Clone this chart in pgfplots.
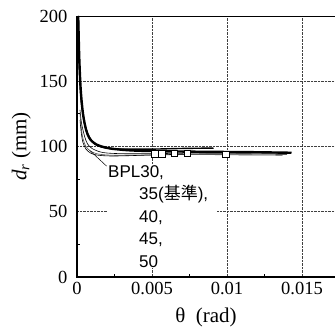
\documentclass[border=0pt]{standalone}
\usepackage{fontspec}
\setmainfont{Liberation Serif}
\newfontfamily\sansf{Liberation Sans}
\newfontfamily\cjk{Noto Sans CJK JP}
\usepackage{pgfplots}
\pgfplotsset{compat=1.18}
\begin{document}
\begin{tikzpicture}
\begin{axis}[
  scale only axis, width=258pt, height=261pt,
  xmin=0, xmax=0.0172, ymin=0, ymax=200,
  axis line style={draw=none},
  xtick={0,0.005,0.01,0.015}, ytick={0,50,100,150,200},
  minor xtick={0.0025,0.0075,0.0125}, minor ytick={25,75,125,175},
  xtick pos=bottom, ytick pos=left, tick align=inside,
  major tick length=0pt, minor tick length=3pt,
  every tick/.style={black, line width=0.8pt},
  scaled x ticks=false,
  xticklabel style={/pgf/number format/fixed, /pgf/number format/precision=3, yshift=-2pt},
  yticklabel style={xshift=-6pt},
  /pgf/number format/assume math mode=true,
  ticklabel style={font=\fontsize{18.5}{18.5}\selectfont},
  grid=major, major grid style={densely dotted, black!75, line width=0.7pt},
  xlabel={θ\ \ (rad)}, ylabel={\textit{d}\textsubscript{\textit{r}} (mm)},
  label style={font=\fontsize{21}{21}\selectfont},
  xlabel style={yshift=-6pt}, ylabel style={yshift=2pt},
  clip=false,
]
% curves
\addplot[black, line width=2.4pt, smooth] coordinates {
(0.00008,200) (0.00015,168) (0.00025,143) (0.0004,125) (0.0006,113) (0.0008,107) (0.001,104) (0.0013,101.5) (0.0017,99.8) (0.0022,98.5) (0.003,97.5) (0.004,96.8) (0.006,96.3) (0.008,96) (0.01,95.8) (0.012,95.6) (0.0143,95.2)};
\addplot[black, line width=1.4pt, smooth] coordinates {
(0.00008,200) (0.00012,175) (0.0002,150) (0.0003,133) (0.0005,118) (0.0007,110) (0.001,104) (0.0014,100.5) (0.002,98.8) (0.003,98) (0.005,98) (0.007,98.5) (0.0091,98.8)};
\addplot[black, line width=0.6pt, smooth] coordinates {
(0.0002,128) (0.0003,118) (0.0005,108) (0.0007,102) (0.001,98.5) (0.0015,96) (0.002,95) (0.003,94.5) (0.005,94.5) (0.008,95) (0.011,95) (0.0142,94.8)};
\addplot[black!70, line width=0.6pt, smooth] coordinates {
(0.0002,125) (0.0003,113) (0.0004,106) (0.0006,100) (0.0009,96.5) (0.0013,94.5) (0.002,93.5) (0.003,93.3) (0.005,93.5) (0.008,93.8) (0.011,93.5) (0.0137,93.3)};
\addplot[black, line width=0.6pt, smooth] coordinates {
(0.0002,120) (0.0003,109) (0.0004,103) (0.0006,98) (0.0009,95) (0.0013,93.5) (0.002,92.8) (0.003,92.8) (0.005,93.5) (0.008,94.2) (0.012,94.2) (0.014,94)};
% squares
\addplot[only marks, mark=square*, mark size=3.3pt, mark options={fill=white, draw=black, line width=0.7pt}] coordinates {
(0.0052,94.3) (0.00565,94.5) (0.00649,94.6) (0.00735,94.8) (0.00993,94.0)};
% frame
\draw[black, line width=0.6pt] (axis cs:0,200) -- (axis cs:0.0172,200);
\draw[black, line width=2.4pt] (axis cs:0,200) -- (axis cs:0,0) -- (axis cs:0.0172,0);
% annotation
\draw[black, line width=0.5pt] (axis cs:0.00085,97) -- (axis cs:0.00197,85);
\node[anchor=north west, fill=white, inner sep=1pt, text width=108pt, align=left,
  font=\sansf\fontsize{17}{22.5}\selectfont] at (axis cs:0.00200,86.5)
  {BPL30,\\\hspace*{31pt}35({\cjk 基準}),\\\hspace*{31pt}40,\\\hspace*{31pt}45,\\\hspace*{31pt}50};
\end{axis}
\pgfresetboundingbox
\useasboundingbox (-77pt,-52pt) rectangle (258pt,277pt);
\end{tikzpicture}
\end{document}
